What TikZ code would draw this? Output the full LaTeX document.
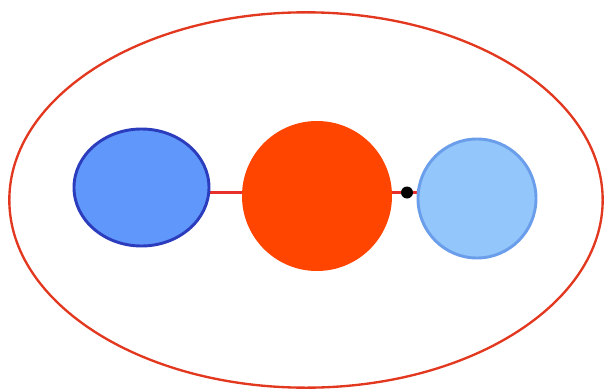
\documentclass[tikz,border=0pt]{standalone}
\usepackage{xcolor}
\usepackage{tikz}
\usetikzlibrary{shapes.geometric, backgrounds}

\definecolor{ringred}{HTML}{E2381F}
\definecolor{linkred}{HTML}{E8302A}
\definecolor{corered}{HTML}{FF4500}
\definecolor{darkblue}{HTML}{2B3CBD}
\definecolor{midblue}{HTML}{6097FB}
\definecolor{paleblue}{HTML}{93C6FA}
\definecolor{edgeblue}{HTML}{6A9EEA}

\begin{document}
\begin{tikzpicture}[
    x=0.03cm, y=-0.03cm,
    blob/.style={ellipse, inner sep=0pt},
    link/.style={linkred, line width=2pt},
    dot/.style={circle, fill=black, inner sep=0pt, minimum size=0.36cm}
]
\useasboundingbox (0,0) rectangle (604,389);

% Outer ring
\node[blob, draw=ringred, line width=2pt, minimum width=17.8cm, minimum height=11.26cm] (ring) at (306,200) {};

% Three bodies
\node[blob, draw=darkblue, fill=midblue, line width=2.5pt, minimum width=4.05cm, minimum height=3.51cm] (left) at (141.5,187.5) {};
\node[blob, fill=corered, minimum width=4.5cm, minimum height=4.5cm] (mid) at (317,196) {};
\node[blob, draw=edgeblue, fill=paleblue, line width=2.5pt, minimum width=3.54cm, minimum height=3.57cm] (right) at (477,198.5) {};

% Joint
\node[dot] (joint) at (407,192.5) {};

% Links
\begin{scope}[on background layer]
\draw[link] (left.east |- joint) -- (mid.west |- joint);
\draw[link] (mid.east |- joint) -- (joint) -- (right.west |- joint);
\end{scope}

\end{tikzpicture}
\end{document}
